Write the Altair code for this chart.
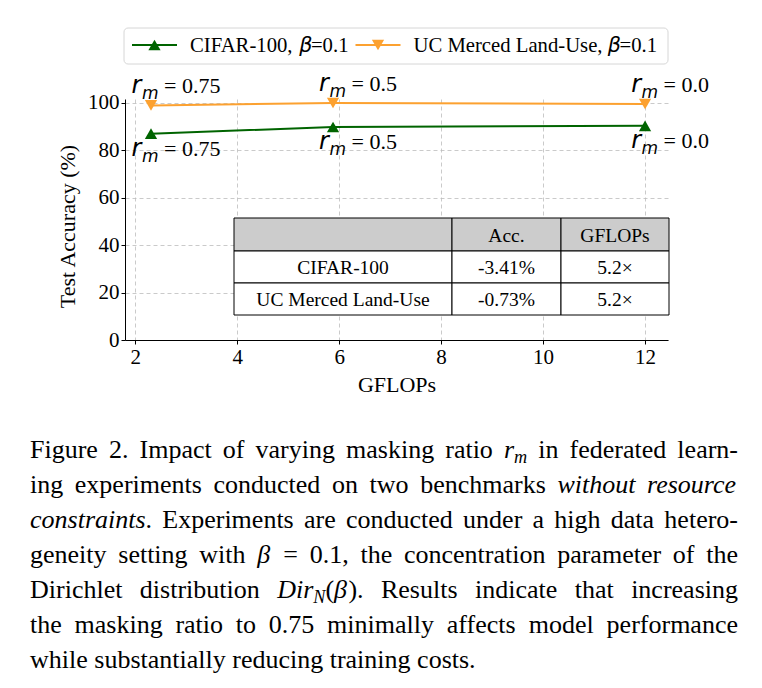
import altair as alt
import pandas as pd

# ---------------- data ----------------
series_names = ["CIFAR-100", "UC Merced Land-Use"]
beta_value = "0.1"
gflops = [2.31, 5.88, 12.0]
mask_ratio = ["0.75", "0.5", "0.0"]
acc_cifar = [86.9, 89.7, 90.2]
acc_ucm = [98.8, 99.8, 99.4]

table_header = ["", "Acc.", "GFLOPs"]
table_rows = [["CIFAR-100", "-3.41%", "5.2×"],
              ["UC Merced Land-Use", "-0.73%", "5.2×"]]

x_ticks = [2, 4, 6, 8, 10, 12]
y_ticks = [0, 20, 40, 60, 80, 100]

caption_lines = [
    ["Figure", "2.", "Impact", "of", "varying", "masking", "ratio", [("r", "i"), ("m", "s")],
     "in", "federated", "learn-"],
    ["ing", "experiments", "conducted", "on", "two", "benchmarks", [("without", "i")], [("resource", "i")]],
    [[("constraints", "i"), (".", "n")], "Experiments", "are", "conducted", "under", "a", "high",
     "data", "hetero-"],
    ["geneity", "setting", "with", [("β", "i")], "=", "0.1,", "the", "concentration", "parameter",
     "of", "the"],
    ["Dirichlet", "distribution", [("Dir", "i"), ("N", "s"), ("(", "n"), ("β", "i"), (").", "n")],
     "Results", "indicate", "that", "increasing"],
    ["the", "masking", "ratio", "to", "0.75", "minimally", "affects", "model", "performance"],
    ["while", "substantially", "reducing", "training", "costs."],
]

# ---------------- style / layout ----------------
COLORS = ["#006400", "#fca130"]
SHAPES = ["triangle-up", "triangle-down"]
SERIF = "Liberation Serif"
SANS = "DejaVu Sans"
W, H = 543, 241
PL, PT = 125, 99
X_DOMAIN = [1.8, 12.45]
Y_DOMAIN = [0, 101.5]
KX = (X_DOMAIN[1] - X_DOMAIN[0]) / W   # data units per pixel
KY = (Y_DOMAIN[1] - Y_DOMAIN[0]) / H

# character widths (per 1000 em) for layout of composite text
_TR = dict(zip(" !%(),-.:=×", [250, 333, 833, 333, 333, 250, 333, 250, 278, 564, 564]))
_TR.update({d: 500 for d in "0123456789"})
_TR.update(dict(zip("ABCDEFGHIJKLMNOPQRSTUVWXYZ",
                    [722, 667, 667, 722, 611, 556, 722, 722, 333, 389, 722, 611, 889, 722, 722, 556,
                     722, 667, 556, 611, 722, 722, 944, 722, 722, 611])))
_TR.update(dict(zip("abcdefghijklmnopqrstuvwxyz",
                    [444, 500, 444, 500, 444, 333, 500, 500, 278, 278, 500, 278, 778, 500, 500, 500,
                     500, 333, 389, 278, 500, 500, 722, 500, 500, 444])))
_TR["β"] = 550
_TI = dict(_TR)
_TI.update(dict(zip("ABCDEFGHIJKLMNOPQRSTUVWXYZ",
                    [611, 611, 667, 722, 611, 611, 722, 722, 333, 444, 667, 556, 833, 667, 722, 611,
                     722, 611, 500, 556, 722, 611, 833, 611, 556, 556])))
_TI.update(dict(zip("abcdefghijklmnopqrstuvwxyz",
                    [500, 500, 444, 500, 444, 278, 500, 500, 278, 278, 444, 278, 722, 500, 500, 500,
                     500, 389, 389, 278, 500, 444, 667, 444, 444, 389])))
_DJ = {"r": 411, "m": 974, "β": 613, "N": 748}


def text_width(s, style, fs):
    tab = _DJ if style == "sans" else (_TI if style == "italic" else _TR)
    return sum(tab.get(c, 500) for c in s) / 1000.0 * fs


# ---------------- pixel-positioned texts ----------------
texts = []  # px, py, text, fs, kind

# caption (justified)
CAP_FS = 26
CAP_L, CAP_R = 30 - PL, 738 - PL
CAP_Y0, CAP_LEAD = 458 - PT, 35


def seg_w(seg):
    t, st = seg
    if st == "s":
        return text_width(t, "italic", CAP_FS * 0.7)
    return text_width(t, "italic" if st == "i" else "serif", CAP_FS)


for li, line in enumerate(caption_lines):
    toks = [[(t, "n")] if isinstance(t, str) else t for t in line]
    widths = [sum(seg_w(s) for s in tok) for tok in toks]
    last = li == len(caption_lines) - 1
    gap = 0.25 * CAP_FS if last else (CAP_R - CAP_L - sum(widths)) / (len(toks) - 1)
    x = CAP_L
    y = CAP_Y0 + li * CAP_LEAD
    for tok, w in zip(toks, widths):
        xx = x
        for t, st in tok:
            if st == "s":
                texts.append(dict(px=xx, py=y + 5, text=t, fs=CAP_FS * 0.7, kind="serif_i"))
            elif st == "i":
                texts.append(dict(px=xx, py=y, text=t, fs=CAP_FS, kind="serif_i"))
            else:
                texts.append(dict(px=xx, py=y, text=t, fs=CAP_FS, kind="serif"))
            xx += seg_w((t, st))
        x += w + gap

# legend
LEG_FS = 20.7
LEG_TEXT_Y = 52 - PT
LEG_HANDLE_Y = 45 - PT
legend_rows = []
lx = 7
for name in series_names:
    legend_rows.append(dict(series=name, hx0=lx, hx1=lx + 45, hm=lx + 22.5, hy=LEG_HANDLE_Y))
    tx = lx + 58
    p1 = name + ", "
    texts.append(dict(px=tx, py=LEG_TEXT_Y, text=p1, fs=LEG_FS, kind="serif"))
    tx += text_width(p1, "serif", LEG_FS)
    texts.append(dict(px=tx, py=LEG_TEXT_Y, text="β", fs=LEG_FS, kind="sans_i"))
    tx += text_width("β", "sans", LEG_FS) - 1
    p3 = "=" + beta_value
    texts.append(dict(px=tx, py=LEG_TEXT_Y, text=p3, fs=LEG_FS, kind="serif"))
    tx += text_width(p3, "serif", LEG_FS)
    lx = tx + 7
legend_df = pd.DataFrame(legend_rows)
legend_box = pd.DataFrame([dict(x0=-1, x1=543, y0=28 - PT, y1=64 - PT)])

# table
col_edges = [234 - PL, 452 - PL, 561 - PL, 669 - PL]
row_edges = [218 - PT, 251 - PT, 283 - PT, 315 - PT]
cells, cell_texts = [], []
for ri, row in enumerate([table_header] + table_rows):
    for ci, val in enumerate(row):
        cells.append(dict(x0=col_edges[ci], x1=col_edges[ci + 1], y0=row_edges[ri], y1=row_edges[ri + 1],
                          fill="#cccccc" if ri == 0 else "white"))
        cell_texts.append(dict(px=(col_edges[ci] + col_edges[ci + 1]) / 2,
                               py=(row_edges[ri] + row_edges[ri + 1]) / 2 + 7, text=val))
cells_df = pd.DataFrame(cells)
cell_text_df = pd.DataFrame(cell_texts)

texts_df = pd.DataFrame(texts)

# ---------------- series data ----------------
rows = []
for name, accs in zip(series_names, [acc_cifar, acc_ucm]):
    for g, a, rm in zip(gflops, accs, mask_ratio):
        rows.append(dict(series=name, gflops=g, acc=a, rm=rm))
df = pd.DataFrame(rows)

# annotations r_m = ... (pixel offsets from each point)
ann = []
for accs, yo in ((acc_ucm, -12), (acc_cifar, 22)):
    for g, a, rm in zip(gflops, accs, mask_ratio):
        eq = "= " + rm
        w_r = text_width("r", "sans", 24)
        w_m = text_width("m", "sans", 17)
        w_eq = text_width(eq, "serif", 22)
        total = w_r + w_m + 6 + w_eq
        left = 25 - total / 2
        ann.append(dict(gflops=g, acc=a, text="r", xo=left, yo=yo, fs=24, kind="sans_i"))
        ann.append(dict(gflops=g, acc=a, text="m", xo=left + w_r + 0.5, yo=yo + 6, fs=17, kind="sans_i"))
        ann.append(dict(gflops=g, acc=a, text=eq, xo=left + w_r + w_m + 6, yo=yo, fs=22, kind="serif"))
ann_df = pd.DataFrame(ann)

# ---------------- chart ----------------
color_scale = alt.Scale(domain=series_names, range=COLORS)
shape_scale = alt.Scale(domain=series_names, range=SHAPES)

x_enc = alt.X("gflops:Q", scale=alt.Scale(domain=X_DOMAIN, nice=False, zero=False),
              axis=alt.Axis(values=x_ticks, title="GFLOPs", titleX=W / 2, titleY=51,
                            titleBaseline="alphabetic", titleAlign="center"))
y_enc = alt.Y("acc:Q", scale=alt.Scale(domain=Y_DOMAIN, nice=False, zero=False),
              axis=alt.Axis(values=y_ticks, title="Test Accuracy (%)", titleX=-58, titleY=127,
                            titleAngle=270, titleBaseline="middle", titleAlign="center"))

grid_base = alt.Chart(df).mark_point(opacity=0).encode(x=x_enc, y=y_enc)

table_rect = alt.Chart(cells_df).mark_rect(stroke="black", strokeWidth=1).encode(
    x=alt.X("x0:Q", scale=None, axis=None), x2="x1:Q",
    y=alt.Y("y0:Q", scale=None, axis=None), y2="y1:Q",
    color=alt.Color("fill:N", scale=None, legend=None))
table_text = alt.Chart(cell_text_df).mark_text(font=SERIF, fontSize=19.5, align="center",
                                               baseline="alphabetic", color="black").encode(
    x=alt.X("px:Q", scale=None, axis=None), y=alt.Y("py:Q", scale=None, axis=None), text="text:N")

lines = alt.Chart(df).mark_line(strokeWidth=2).encode(
    x="gflops:Q", y="acc:Q", color=alt.Color("series:N", scale=color_scale, legend=None),
    detail="series:N")
points = alt.Chart(df).mark_point(filled=True, size=150, opacity=1).encode(
    x="gflops:Q", y="acc:Q", color=alt.Color("series:N", scale=color_scale, legend=None),
    shape=alt.Shape("series:N", scale=shape_scale, legend=None))


def ann_layer(kind, font, style):
    return alt.Chart(ann_df[ann_df.kind == kind]).transform_calculate(
        gx=f"datum.gflops + datum.xo * {KX}",
        gy=f"datum.acc - datum.yo * {KY}",
    ).mark_text(font=font, fontStyle=style, align="left", baseline="alphabetic", color="black").encode(
        x="gx:Q", y="gy:Q",
        text="text:N", size=alt.Size("fs:Q", scale=None, legend=None))


def px_text_layer(kind, font, style):
    return alt.Chart(texts_df[texts_df.kind == kind]).mark_text(
        font=font, fontStyle=style, align="left", baseline="alphabetic", color="black").encode(
        x=alt.X("px:Q", scale=None, axis=None), y=alt.Y("py:Q", scale=None, axis=None),
        text="text:N", size=alt.Size("fs:Q", scale=None, legend=None))


leg_box = alt.Chart(legend_box).mark_rect(cornerRadius=4, stroke="#d6d6d6", strokeWidth=1,
                                          fill="white").encode(
    x=alt.X("x0:Q", scale=None, axis=None), x2="x1:Q",
    y=alt.Y("y0:Q", scale=None, axis=None), y2="y1:Q")
leg_lines = alt.Chart(legend_df).mark_rule(strokeWidth=2).encode(
    x=alt.X("hx0:Q", scale=None, axis=None), x2="hx1:Q",
    y=alt.Y("hy:Q", scale=None, axis=None),
    color=alt.Color("series:N", scale=color_scale, legend=None))
leg_pts = alt.Chart(legend_df).mark_point(filled=True, size=150, opacity=1).encode(
    x=alt.X("hm:Q", scale=None, axis=None), y=alt.Y("hy:Q", scale=None, axis=None),
    color=alt.Color("series:N", scale=color_scale, legend=None),
    shape=alt.Shape("series:N", scale=shape_scale, legend=None))

chart = alt.layer(
    grid_base, table_rect, table_text, lines, points,
    ann_layer("sans_i", SANS, "italic"), ann_layer("serif", SERIF, "normal"),
    leg_box, leg_lines, leg_pts,
    px_text_layer("serif", SERIF, "normal"), px_text_layer("serif_i", SERIF, "italic"),
    px_text_layer("sans_i", SANS, "italic"),
).properties(
    width=W, height=H,
    autosize=alt.AutoSizeParams(type="none"),
    padding={"left": PL, "top": PT, "right": 762 - PL - W, "bottom": 688 - PT - H},
    background="white",
).configure_view(stroke=None).configure_axis(
    labelFont=SERIF, labelFontSize=21, labelColor="black",
    titleFont=SERIF, titleFontSize=22, titleFontWeight="normal", titleColor="black",
    domainColor="black", domainWidth=1, tickColor="black", tickSize=4, tickWidth=1,
    labelPadding=2, gridColor="#bdbdbd", gridDash=[4, 3], gridWidth=0.8,
)

chart.save("out.html", embed_options={"renderer": "svg", "actions": False})
